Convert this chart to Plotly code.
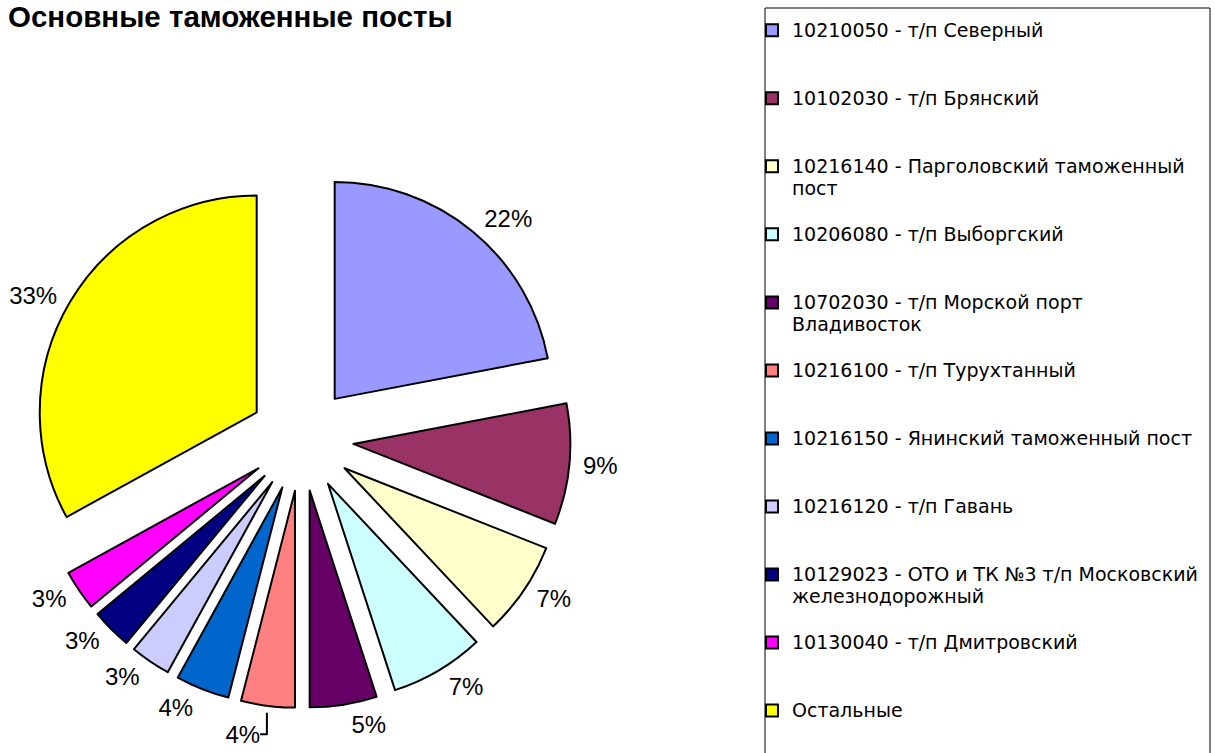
import plotly.graph_objects as go

# ---- data ----
post_names = [
    "10210050 - т/п Северный",
    "10102030 - т/п Брянский",
    "10216140 - Парголовский таможенный|пост",
    "10206080 - т/п Выборгский",
    "10702030 - т/п Морской порт|Владивосток",
    "10216100 - т/п Турухтанный",
    "10216150 - Янинский таможенный пост",
    "10216120 - т/п Гавань",
    "10129023 - ОТО и ТК №3 т/п Московский|железнодорожный",
    "10130040 - т/п Дмитровский",
    "Остальные",
]
shares = [22, 9, 7, 7, 5, 4, 4, 3, 3, 3, 33]
slice_colors = [
    "#9999FF", "#993366", "#FFFFCC", "#CCFFFF", "#660066", "#FF8080",
    "#0066CC", "#CCCCFF", "#000080", "#FF00FF", "#FFFF00",
]
title_text = "Основные таможенные посты"

W, H = 1215, 753

# legend entries: equal-height blocks (three lines) so entries are evenly spaced
def legend_label(name, last=False):
    parts = name.split("|")
    if not last:
        while len(parts) < 3:
            parts.append("\u00a0")
    return "<br>".join('<span style="font-size:19px">%s</span>' % p for p in parts)

labels = [legend_label(n, i == len(post_names) - 1) for i, n in enumerate(post_names)]

# geometry of the pie (pixels)
CX, CY = 301.5, 439.0
HALF_MAIN = 269.0      # half-size of the exploded pie box
HALF_LABELS = 276.0    # radius of the invisible ring that carries the percent labels

def dom(half):
    return dict(
        x=[(CX - half) / W, (CX + half) / W],
        y=[1 - (CY + half) / H, 1 - (CY - half) / H],
    )

pie_main = go.Pie(
    labels=labels,
    values=shares,
    sort=False,
    direction="clockwise",
    rotation=0,
    pull=0.24,
    marker=dict(colors=slice_colors, line=dict(color="black", width=2)),
    textinfo="none",
    domain=dom(HALF_MAIN),
    hoverinfo="label+percent",
)

pie_text = go.Pie(
    labels=labels,
    values=shares,
    sort=False,
    direction="clockwise",
    rotation=0,
    marker=dict(colors=["rgba(0,0,0,0)"] * len(shares), line=dict(width=0)),
    textinfo="percent",
    texttemplate="%{percent:.0%}",
    textposition="outside",
    outsidetextfont=dict(family="Liberation Sans, Arial, sans-serif", size=24, color="black"),
    domain=dom(HALF_LABELS),
    showlegend=False,
    hoverinfo="skip",
)

fig = go.Figure([pie_main, pie_text])

fig.update_layout(
    width=W,
    height=H,
    margin=dict(l=0, r=0, t=0, b=0, autoexpand=False),
    paper_bgcolor="white",
    plot_bgcolor="white",
    title=dict(
        text="<b>%s</b>" % title_text,
        x=8 / W,
        xanchor="left",
        y=1 - 16.5 / H,
        yanchor="middle",
        font=dict(family="Liberation Sans, Arial, sans-serif", size=29.5, color="black"),
    ),
    showlegend=True,
    legend=dict(
        x=752 / W,
        xanchor="left",
        y=1 - 13 / H,
        yanchor="top",
        valign="top",
        borderwidth=0,
        bgcolor="rgba(0,0,0,0)",
        font=dict(family="DejaVu Sans, Verdana, sans-serif", size=16.67, color="black"),
    ),
    shapes=[
        dict(
            type="rect", xref="paper", yref="paper",
            x0=765 / W, x1=1210 / W, y0=-0.05, y1=1 - 8 / H,
            line=dict(color="black", width=1), fillcolor="rgba(0,0,0,0)",
            layer="above",
        )
    ],
)

fig.write_html(
    "out.html",
    config={"displayModeBar": False},
    post_script=(
        "document.body.style.margin='0';"
        "document.body.style.overflow='hidden';"
        "document.documentElement.style.overflow='hidden';"
    ),
)
